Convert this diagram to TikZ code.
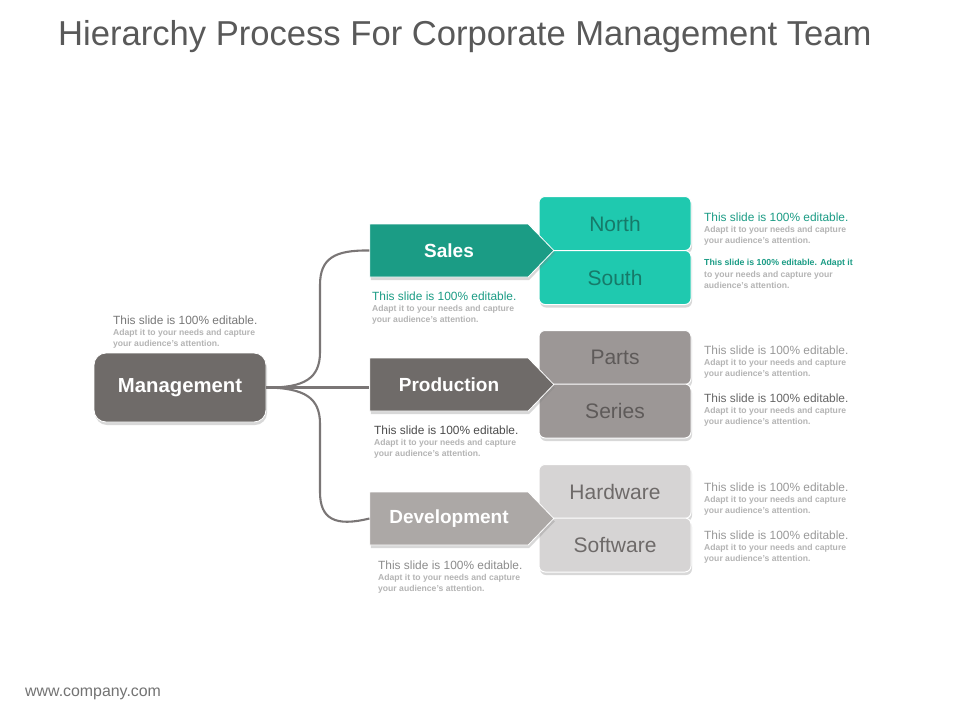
\documentclass[tikz,border=0pt]{standalone}
\usepackage{fontspec}
\setmainfont{Liberation Sans}
\usetikzlibrary{shapes.symbols,shadows}
\definecolor{tealD}{HTML}{1B9C85}
\definecolor{tealL}{HTML}{1FC9AF}
\definecolor{tealT}{HTML}{167A69}
\definecolor{grayD}{HTML}{6F6B69}
\definecolor{grayM}{HTML}{9C9796}
\definecolor{grayMT}{HTML}{5E5A59}
\definecolor{grayA}{HTML}{ACA8A6}
\definecolor{grayL}{HTML}{D6D4D4}
\definecolor{grayLT}{HTML}{6E6A69}
\definecolor{titlec}{HTML}{595959}
\definecolor{subc}{HTML}{B4B4B4}
\definecolor{connc}{HTML}{7A7676}
\tikzset{
  shad/.style={drop shadow={opacity=0.3,shadow xshift=1pt,shadow yshift=-3pt}},
  mgmtbox/.style={draw=white,line width=0.8pt,fill=grayD,rounded corners=12pt,minimum width=172pt,minimum height=69pt,text=white,font=\bfseries\fontsize{20.3}{20}\selectfont,shad},
  arrowbox/.style={signal,signal to=east,signal pointer angle=92,draw=white,line width=0.8pt,minimum width=184pt,minimum height=53pt,text=white,font=\bfseries\fontsize{19}{19}\selectfont,inner sep=0pt,shad},
  subbox/.style={draw=white,line width=1pt,rounded corners=6pt,minimum width=152pt,minimum height=54pt,font=\fontsize{21}{21}\selectfont,shad},
  desc/.style={anchor=north west,inner sep=0pt,align=left,font=\fontsize{11.9}{13}\selectfont},
  conn/.style={draw=connc,line width=2.1pt}
}
\newcommand{\subt}[1]{{\color{subc}\bfseries\fontsize{8.6}{12}\selectfont #1}}
\begin{document}
\begin{tikzpicture}[x=1pt,y=-1pt]
\useasboundingbox[fill=white] (0,0) rectangle (960,720);
\node[anchor=west,inner sep=0pt,text=titlec,font=\fontsize{34.6}{35}\selectfont] (title) at (58,37) {Hierarchy Process For Corporate Management Team};

% sub boxes
\node[subbox,fill=tealL,text=tealT] (north) at (615,223.5) {North};
\node[subbox,fill=tealL,text=tealT] (south) at (615,277.5) {South};
\node[subbox,fill=grayM,text=grayMT] (parts) at (615,357.5) {Parts};
\node[subbox,fill=grayM,text=grayMT] (series) at (615,411) {Series};
\node[subbox,fill=grayL,text=grayLT] (hardware) at (615,491.5) {Hardware};
\node[subbox,fill=grayL,text=grayLT] (software) at (615,545) {Software};

% arrows
\node[arrowbox,fill=tealD] (sales) at (449,250.5) {Sales};
\node[arrowbox,fill=grayD] (production) at (449,384.5) {Production};
\node[arrowbox,fill=grayA] (development) at (449,518.5) {Development};

% management
\node[mgmtbox] (mgmt) at (180,387.5) {Management};

% connectors
\draw[conn] (mgmt.east) .. controls (305,388) and (320,378) .. (320,352) -- (320,285) .. controls (320,258) and (335,250) .. (sales.west);
\draw[conn] (mgmt.east) -- (production.west |- mgmt.east);
\draw[conn] (mgmt.east) .. controls (305,388) and (320,398) .. (320,424) -- (320,492) .. controls (320,519) and (335,527) .. (development.west);

% descriptions
\node[desc,text=black!53] (dm) at (113,316) {This slide is 100\% editable.\\[-2pt]\subt{Adapt it to your needs and capture}\\[-2pt]\subt{your audience's attention.}};
\node[desc,text=tealD] (ds) at (372,292) {This slide is 100\% editable.\\[-2pt]\subt{Adapt it to your needs and capture}\\[-2pt]\subt{your audience's attention.}};
\node[desc,text=black!70] (dp) at (374,426) {This slide is 100\% editable.\\[-2pt]\subt{Adapt it to your needs and capture}\\[-2pt]\subt{your audience's attention.}};
\node[desc,text=black!45] (dd) at (378,561) {This slide is 100\% editable.\\[-2pt]\subt{Adapt it to your needs and capture}\\[-2pt]\subt{your audience's attention.}};
\node[desc,text=tealD] (dn) at (704,213) {This slide is 100\% editable.\\[-2pt]\subt{Adapt it to your needs and capture}\\[-2pt]\subt{your audience's attention.}};
\node[desc,text=tealD,font=\bfseries\fontsize{8.75}{11.5}\selectfont] (dso) at (704,259) {This slide is 100\% editable. Adapt it\\\subt{to your needs and capture your}\\\subt{audience's attention.}};
\node[desc,text=black!40] (dpa) at (704,346) {This slide is 100\% editable.\\[-2pt]\subt{Adapt it to your needs and capture}\\[-2pt]\subt{your audience's attention.}};
\node[desc,text=black!60] (dse) at (704,394) {This slide is 100\% editable.\\[-2pt]\subt{Adapt it to your needs and capture}\\[-2pt]\subt{your audience's attention.}};
\node[desc,text=black!40] (dh) at (704,483) {This slide is 100\% editable.\\[-2pt]\subt{Adapt it to your needs and capture}\\[-2pt]\subt{your audience's attention.}};
\node[desc,text=black!40] (dsw) at (704,531) {This slide is 100\% editable.\\[-2pt]\subt{Adapt it to your needs and capture}\\[-2pt]\subt{your audience's attention.}};

\node[anchor=west,inner sep=0pt,text=black!55,font=\fontsize{15.9}{16}\selectfont] (web) at (25,694) {www.company.com};
\end{tikzpicture}
\end{document}
